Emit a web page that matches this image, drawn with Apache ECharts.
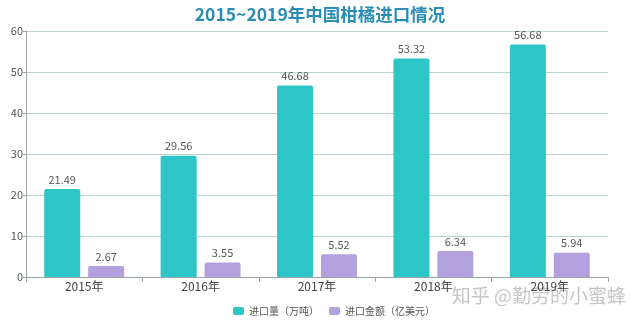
<!DOCTYPE html>
<html>
<head>
<meta charset="utf-8">
<script src="https://cdn.jsdelivr.net/npm/echarts@6/dist/echarts.min.js"></script>
<style>
html,body{margin:0;padding:0;background:#fff;}
#chart{width:640px;height:323px;}
</style>
</head>
<body>
<div id="chart"></div>
<script>
// 2015-2019 citrus imports into China
const years = ['2015年', '2016年', '2017年', '2018年', '2019年'];
const importVolume = [21.49, 29.56, 46.68, 53.32, 56.68];   // 万吨
const importValue = [2.67, 3.55, 5.52, 6.34, 5.94];         // 亿美元
const seriesNames = ['进口量（万吨）', '进口金额（亿美元）'];
const yTicks = { min: 0, max: 60, interval: 10 };

const font = '"Noto Sans CJK SC", "Open Sans", sans-serif';
const chart = echarts.init(document.getElementById('chart'), null, { renderer: 'canvas' });

const labelStyle = {
  show: true,
  position: 'top',
  distance: 4,
  color: '#555',
  fontSize: 11,
  fontFamily: font
};

chart.setOption({
  animation: false,
  backgroundColor: '#fff',
  title: {
    text: '2015~2019年中国柑橘进口情况',
    left: 'center',
    top: 1,
    textStyle: { color: '#2a8db6', fontSize: 17.5, fontWeight: 'bold', fontFamily: font }
  },
  legend: {
    bottom: 2,
    left: 228,
    itemWidth: 11,
    itemHeight: 8,
    itemGap: 10,
    icon: 'roundRect',
    textStyle: { color: '#555', fontSize: 10, fontFamily: font },
    data: seriesNames
  },
  grid: { left: 26, right: 32, top: 31, bottom: 46 },
  xAxis: {
    type: 'category',
    data: years,
    axisLine: { lineStyle: { color: '#9aa7a6' } },
    axisTick: { show: true, lineStyle: { color: '#9aa7a6' } },
    axisLabel: { color: '#444', fontSize: 12, margin: 3, fontFamily: font }
  },
  yAxis: {
    type: 'value',
    min: yTicks.min,
    max: yTicks.max,
    interval: yTicks.interval,
    axisLine: { show: true, lineStyle: { color: '#9aa7a6' } },
    axisTick: { show: true, length: 3, lineStyle: { color: '#9aa7a6' } },
    axisLabel: { color: '#555', fontSize: 11, margin: 3, fontFamily: font },
    splitLine: { lineStyle: { color: '#b9d3cf' } }
  },
  series: [
    {
      name: seriesNames[0],
      type: 'bar',
      data: importVolume,
      barWidth: 36,
      barGap: '22%',
      itemStyle: { color: '#2ec5c7', borderRadius: [2, 2, 0, 0] },
      label: labelStyle
    },
    {
      name: seriesNames[1],
      type: 'bar',
      data: importValue,
      barWidth: 36,
      itemStyle: { color: '#b3a1dd', borderRadius: [2, 2, 0, 0] },
      label: labelStyle
    }
  ],
  graphic: [{
    type: 'text',
    right: 14,
    top: 286,
    style: {
      text: '知乎 @勤劳的小蜜蜂',
      fill: 'rgba(150,150,150,0.55)',
      fontSize: 19,
      fontFamily: font
    }
  }]
});
</script>
</body>
</html>
